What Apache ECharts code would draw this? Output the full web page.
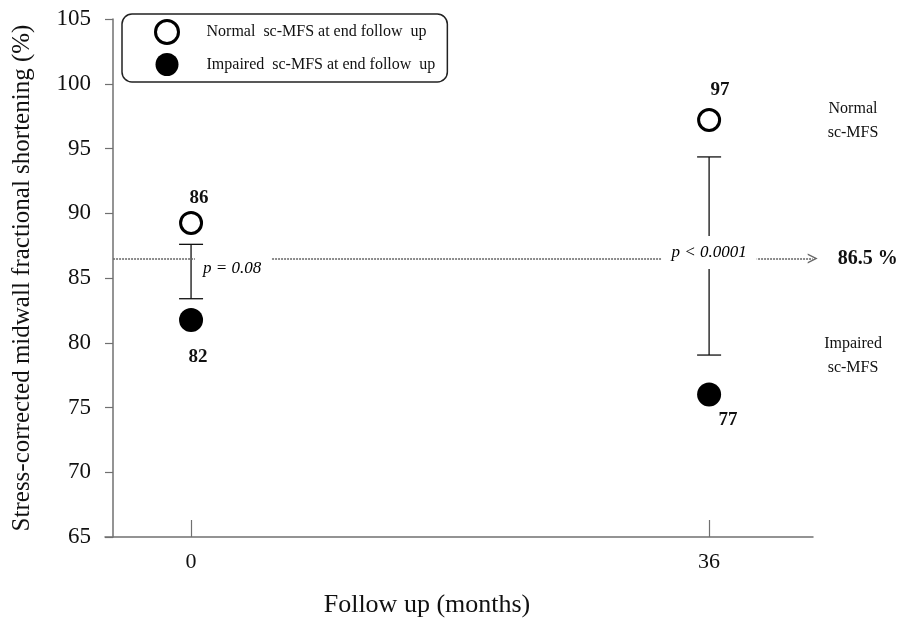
<!DOCTYPE html>
<html><head><meta charset="utf-8">
<script src="https://cdn.jsdelivr.net/npm/echarts@6/dist/echarts.min.js"></script>
<style>html,body{margin:0;padding:0;background:#fff}#c{width:899px;height:619px}</style>
</head><body><div id="c"></div>
<script>
// ---- data ----
const timePoints = [0, 36];
const normalMeans = [89.25, 97.2];
const impairedMeans = [81.75, 76.0];
const normalLabels = ['86', '97'];
const impairedLabels = ['82', '77'];
const barLow = [83.4, 79.05];
const barHigh = [87.6, 94.35];
const pValues = ['p = 0.08', 'p < 0.0001'];
const refValue = 86.5;
const refLabel = '86.5 %';
const refSpan = [-5.42, 43.2];
const xTicks = [0, 36];
const xRange = [-5.98, 43.22];
const yRange = [65, 105];
const yStep = 5;
const seriesNames = ['Normal  sc-MFS at end follow  up', 'Impaired  sc-MFS at end follow  up'];
const groupNotes = ['Normal\nsc-MFS', 'Impaired\nsc-MFS'];

const FONT = 'Liberation Serif';
const chart = echarts.init(document.getElementById('c'));

const normalOffsets = [[8, -25], [11, -30]];
const impairedOffsets = [[7, 37], [19, 26]];
const pOffsets = [[42, 10], [0, -6]];
const pPads = [[4, 10, 3, 8], [10, 10, 6, 10]];

const arrowPath = 'path://M0,10 L5,0 L10,10 L8.5,10 L5,3 L1.5,10 Z';

const option = {
  animation: false,
  backgroundColor: '#fff',
  grid: { left: 105, right: 86, top: 19, bottom: 82, containLabel: false, outerBoundsMode: 'none' },
  legend: {
    left: 122, top: 14, orient: 'vertical',
    padding: [5, 12, 6, 32],
    itemWidth: 23, itemHeight: 23, itemGap: 8,
    borderColor: '#222', borderWidth: 1.5, borderRadius: 10,
    textStyle: { fontFamily: FONT, fontSize: 16, color: '#111', padding: [0, 0, 0, 23] },
    data: [
      { name: seriesNames[0], icon: 'circle', itemStyle: { color: '#fff', borderColor: '#000', borderWidth: 3 } },
      { name: seriesNames[1], icon: 'circle', itemStyle: { color: '#000', borderWidth: 0 } }
    ]
  },
  xAxis: {
    type: 'value', min: xRange[0], max: xRange[1],
    name: 'Follow up (months)', nameLocation: 'middle', nameGap: 55,
    nameTextStyle: { fontFamily: FONT, fontSize: 26, color: '#111', padding: [0, 64, 0, 0] },
    axisLine: { onZero: false, lineStyle: { color: '#707070', width: 1.5 } },
    axisTick: { show: true, inside: true, length: 17, customValues: xTicks, lineStyle: { color: '#707070', width: 1.2 } },
    axisLabel: { customValues: xTicks, margin: 14, fontFamily: FONT, fontSize: 22, color: '#111' },
    splitLine: { show: false }
  },
  yAxis: {
    type: 'value', min: yRange[0], max: yRange[1], interval: yStep,
    offset: -8,
    name: 'Stress-corrected midwall fractional shortening (%)', nameLocation: 'middle', nameGap: 78,
    nameTextStyle: { fontFamily: FONT, fontSize: 25, color: '#111' },
    axisLine: { show: true, onZero: false, lineStyle: { color: '#707070', width: 1.5 } },
    axisTick: { show: true, length: 8, lineStyle: { color: '#707070', width: 1.2 } },
    axisLabel: { margin: 22, fontFamily: FONT, fontSize: 23, color: '#111' },
    splitLine: { show: false }
  },
  graphic: groupNotes.map((t, i) => ({
    type: 'text', x: 853, y: i === 0 ? 120.5 : 355.5,
    style: { text: t, align: 'center', verticalAlign: 'middle', font: '16px "Liberation Serif"', lineHeight: 24, fill: '#111' }
  })),
  series: [
    {
      type: 'scatter', name: 'ref', symbolSize: 0, z: 1, silent: true,
      data: [],
      markLine: {
        silent: true, animation: false,
        symbol: ['none', arrowPath], symbolSize: [10, 10],
        lineStyle: { color: '#666', type: [2, 1], width: 1.5 },
        label: { show: true, position: 'end', distance: 25, formatter: refLabel, fontFamily: FONT, fontSize: 20, fontWeight: 'bold', color: '#111' },
        data: [[{ coord: [refSpan[0], refValue] }, { coord: [refSpan[1], refValue] }]]
      }
    },
    {
      type: 'custom', name: 'errorbars', z: 2, silent: true,
      data: timePoints.map((t, i) => [t, barLow[i], barHigh[i]]),
      renderItem: function (params, api) {
        const x = api.value(0);
        const lo = api.coord([x, api.value(1)]);
        const hi = api.coord([x, api.value(2)]);
        const hw = 12;
        const st = { stroke: '#111', lineWidth: 1.3 };
        return {
          type: 'group',
          children: [
            { type: 'line', shape: { x1: lo[0], y1: lo[1], x2: hi[0], y2: hi[1] }, style: st },
            { type: 'line', shape: { x1: lo[0] - hw, y1: lo[1], x2: lo[0] + hw, y2: lo[1] }, style: st },
            { type: 'line', shape: { x1: hi[0] - hw, y1: hi[1], x2: hi[0] + hw, y2: hi[1] }, style: st }
          ]
        };
      }
    },
    {
      type: 'scatter', name: 'pvals', symbolSize: 0, z: 5, silent: true,
      itemStyle: { opacity: 1 },
      data: timePoints.map((t, i) => ({
        value: [t, refValue],
        label: {
          show: true, position: 'inside', offset: pOffsets[i], formatter: pValues[i],
          fontFamily: FONT, fontSize: 17, fontStyle: 'italic', color: '#000',
          backgroundColor: '#fff', padding: pPads[i]
        }
      }))
    },
    {
      type: 'scatter', name: seriesNames[0], z: 6,
      symbol: 'circle', symbolSize: 21,
      itemStyle: { color: '#fff', borderColor: '#000', borderWidth: 3, opacity: 1 },
      data: timePoints.map((t, i) => ({
        value: [t, normalMeans[i]],
        label: { show: true, position: 'inside', offset: normalOffsets[i], formatter: normalLabels[i], fontFamily: FONT, fontSize: 19, fontWeight: 'bold', color: '#111' }
      }))
    },
    {
      type: 'scatter', name: seriesNames[1], z: 6,
      symbol: 'circle', symbolSize: 24,
      itemStyle: { color: '#000', opacity: 1 },
      data: timePoints.map((t, i) => ({
        value: [t, impairedMeans[i]],
        label: { show: true, position: 'inside', offset: impairedOffsets[i], formatter: impairedLabels[i], fontFamily: FONT, fontSize: 19, fontWeight: 'bold', color: '#111' }
      }))
    }
  ]
};
chart.setOption(option);
</script></body></html>
